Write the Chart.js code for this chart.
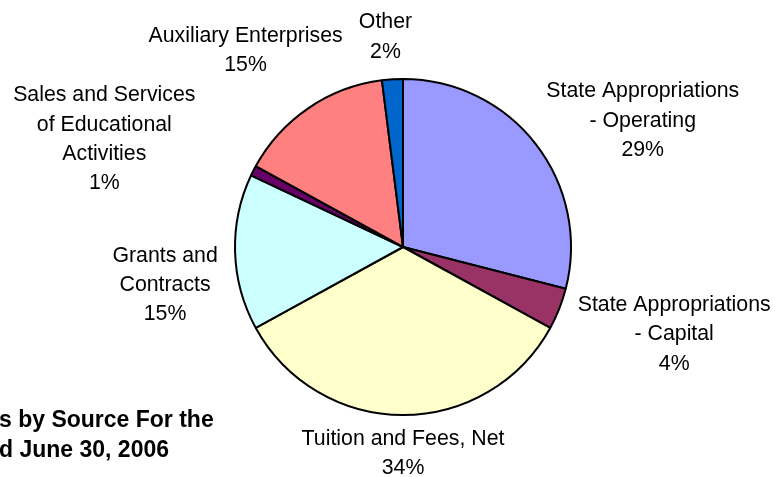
<!DOCTYPE html>
<html>
<head>
<meta charset="utf-8">
<title>Revenues by Source</title>
<script src="https://cdn.jsdelivr.net/npm/chart.js@4.4.1/dist/chart.umd.min.js"></script>
<style>
    html, body { margin: 0; padding: 0; background: #ffffff; }
    #wrap { width: 775px; height: 477px; }
</style>
</head>
<body>
<div id="wrap"><canvas id="revenueChart" width="775" height="477"></canvas></div>
<script>
// Revenue sources, clockwise from 12 o'clock (share of total, %)
const categories = [
    ['State Appropriations', '- Operating'],
    ['State Appropriations', '- Capital'],
    ['Tuition and Fees, Net'],
    ['Grants and', 'Contracts'],
    ['Sales and Services', 'of Educational', 'Activities'],
    ['Auxiliary Enterprises'],
    ['Other']
];
const shares = [29, 4, 34, 15, 1, 15, 2];
const sliceColors = ['#9999FF', '#993366', '#FFFFCC', '#CCFFFF', '#660066', '#FF8080', '#0066CC'];
const titleLines = ['s by Source For the', 'd June 30, 2006'];

// Label box centre = slice's outer mid-point + this shift (px)
const labelShift = [
    [107, -25], [115, 24], [0, 37], [-70, 31], [-149, -33], [-63, -59], [-7, -44]
];

const LABEL_FONT = '21.3px "Liberation Sans", Arial, sans-serif';
const LINE_H = 29.3;
const CAP_H = 15.2;

const sliceLabels = {
    id: 'sliceLabels',
    afterDatasetsDraw(chart) {
        const ctx = chart.ctx;
        const arcs = chart.getDatasetMeta(0).data;
        ctx.save();
        ctx.fillStyle = '#000000';
        ctx.font = LABEL_FONT;
        ctx.textAlign = 'center';
        ctx.textBaseline = 'alphabetic';
        arcs.forEach((arc, i) => {
            const { x, y, startAngle, endAngle, outerRadius } = arc.getProps(['x', 'y', 'startAngle', 'endAngle', 'outerRadius'], true);
            const mid = (startAngle + endAngle) / 2;
            const cx = x + Math.cos(mid) * outerRadius + labelShift[i][0];
            const cy = y + Math.sin(mid) * outerRadius + labelShift[i][1];
            const lines = categories[i].concat([shares[i] + '%']);
            const blockH = (lines.length - 1) * LINE_H + CAP_H;
            const top = cy - blockH / 2 + CAP_H;
            lines.forEach((line, k) => ctx.fillText(line, cx, top + k * LINE_H));
        });

        // chart title, bottom left
        ctx.font = 'bold 23px "Liberation Sans", Arial, sans-serif';
        ctx.textAlign = 'left';
        ctx.fillText(titleLines[0], -1, 427);
        ctx.fillText(titleLines[1], -1, 457);
        ctx.restore();
    }
};

new Chart(document.getElementById('revenueChart'), {
    type: 'pie',
    data: {
        labels: categories.map(c => c.join(' ')),
        datasets: [{
            data: shares,
            backgroundColor: sliceColors,
            borderColor: '#000000',
            borderWidth: 2
        }]
    },
    options: {
        responsive: false,
        animation: false,
        radius: 168,
        layout: { padding: { left: 31, top: 17, right: 0, bottom: 0 } },
        plugins: {
            legend: { display: false },
            tooltip: { enabled: false }
        }
    },
    plugins: [sliceLabels]
});
</script>
</body>
</html>
